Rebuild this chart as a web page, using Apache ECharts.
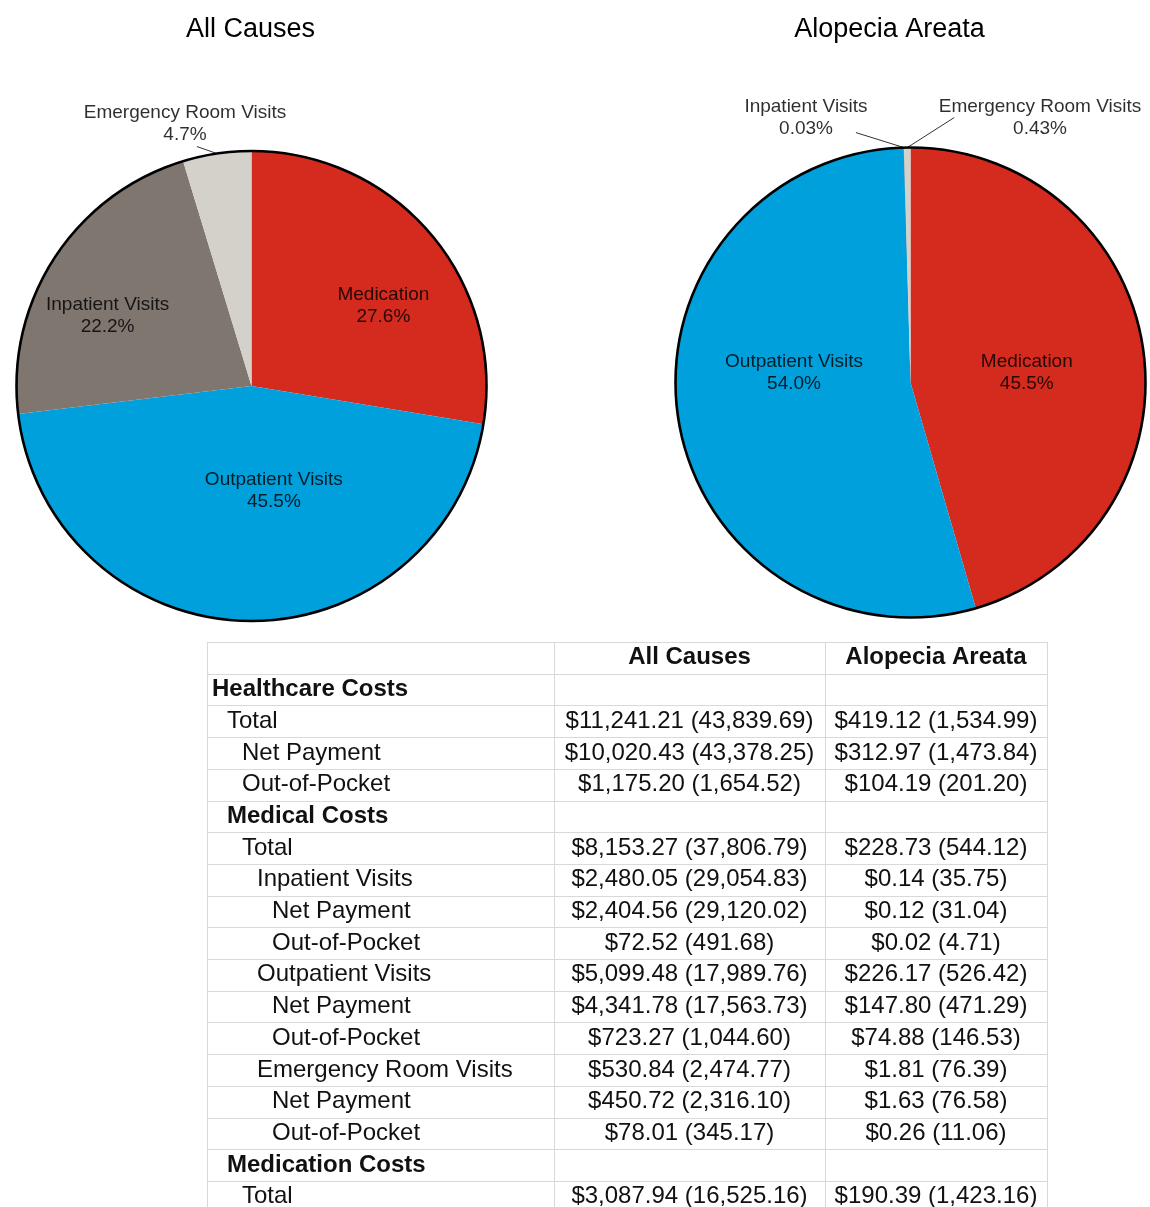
<!DOCTYPE html>
<html><head><meta charset="utf-8">
<script src="https://cdn.jsdelivr.net/npm/echarts@6/dist/echarts.min.js"></script>
<style>html,body{margin:0;padding:0;background:#fff}#c{width:1150px;height:1207px}</style>
</head><body><div id="c"></div>
<script>
// ---------- data ----------
const pieTitles = ['All Causes', 'Alopecia Areata'];
const sliceNames = ['Medication', 'Outpatient Visits', 'Inpatient Visits', 'Emergency Room Visits'];
const allCausesShares = [27.6, 45.5, 22.2, 4.7];
const alopeciaShares = [45.5, 54.0, 0.03, 0.43];
const sliceColors = ['#D52A1E', '#00A0DD', '#7F766F', '#D4D0CA'];

const tableHeaders = ['All Causes', 'Alopecia Areata'];
const rowLabels = ['Healthcare Costs', 'Total', 'Net Payment', 'Out-of-Pocket',
  'Medical Costs', 'Total', 'Inpatient Visits', 'Net Payment', 'Out-of-Pocket',
  'Outpatient Visits', 'Net Payment', 'Out-of-Pocket', 'Emergency Room Visits',
  'Net Payment', 'Out-of-Pocket', 'Medication Costs', 'Total'];
const rowLevels = [0, 1, 2, 2, 1, 2, 3, 4, 4, 3, 4, 4, 3, 4, 4, 1, 2];
const rowIsSection = [true, false, false, false, true, false, false, false, false,
  false, false, false, false, false, false, true, false];
const allCausesCosts = ['', '$11,241.21 (43,839.69)', '$10,020.43 (43,378.25)', '$1,175.20 (1,654.52)',
  '', '$8,153.27 (37,806.79)', '$2,480.05 (29,054.83)', '$2,404.56 (29,120.02)', '$72.52 (491.68)',
  '$5,099.48 (17,989.76)', '$4,341.78 (17,563.73)', '$723.27 (1,044.60)', '$530.84 (2,474.77)',
  '$450.72 (2,316.10)', '$78.01 (345.17)', '', '$3,087.94 (16,525.16)'];
const alopeciaCosts = ['', '$419.12 (1,534.99)', '$312.97 (1,473.84)', '$104.19 (201.20)',
  '', '$228.73 (544.12)', '$0.14 (35.75)', '$0.12 (31.04)', '$0.02 (4.71)',
  '$226.17 (526.42)', '$147.80 (471.29)', '$74.88 (146.53)', '$1.81 (76.39)',
  '$1.63 (76.58)', '$0.26 (11.06)', '', '$190.39 (1,423.16)'];

// ---------- layout ----------
const FONT = "'Liberation Sans', Arial, Helvetica, sans-serif";
const pieLayouts = [
  { center: [251.5, 386], radius: 235,
    inside: { 0: [40, -2.5], 1: [25, -15.5], 2: [-43, -4.3] },
    outside: { 3: { text: [185, 124], line: [-20, -7] } } },
  { center: [910.5, 382.5], radius: 235,
    inside: { 0: [-3, 7], 1: [2.6, -28.7] },
    outside: { 2: { text: [806, 118], line: [-48, -15] }, 3: { text: [1040, 118], line: [47, -30] } } }
];

function fmtPct(v) { return (v >= 1 ? v.toFixed(1) : v.toFixed(2)) + '%'; }

function buildPie(shares, idx) {
  const L = pieLayouts[idx];
  const data = shares.map((v, i) => {
    const isOut = L.outside[i] != null;
    return {
      value: v, name: sliceNames[i],
      itemStyle: { color: sliceColors[i] },
      label: { position: isOut ? 'outside' : 'inside' },
      labelLine: { show: isOut }
    };
  });
  return {
    type: 'pie', center: L.center, radius: L.radius,
    startAngle: 90, clockwise: true, avoidLabelOverlap: false,
    animation: false, silent: true, emphasis: { disabled: true },
    itemStyle: { borderWidth: 0 },
    label: {
      show: true, fontFamily: FONT, fontSize: 19, lineHeight: 22,
      color: 'rgba(0,0,0,0.82)', align: 'center',
      formatter: p => p.name + '\n' + fmtPct(p.value)
    },
    labelLine: { length: 12, length2: 8, lineStyle: { color: '#333', width: 1 } },
    labelLayout: function (params) {
      const i = params.dataIndex;
      if (L.inside[i]) return { dx: L.inside[i][0], dy: L.inside[i][1] };
      const o = L.outside[i];
      if (o) {
        const res = { x: o.text[0], y: o.text[1], align: 'center', verticalAlign: 'middle' };
        if (params.labelLinePoints && params.labelLinePoints[0]) {
          const p0 = params.labelLinePoints[0];
          const p1 = [p0[0] + o.line[0], p0[1] + o.line[1]];
          res.labelLinePoints = [p0, p1, p1];
        }
        return res;
      }
      return {};
    },
    data: data
  };
}

function buildRing(idx) {
  const L = pieLayouts[idx];
  return {
    type: 'pie', center: L.center, radius: L.radius, silent: true, animation: false,
    emphasis: { disabled: true }, z: 5,
    label: { show: false }, labelLine: { show: false },
    itemStyle: { color: 'rgba(0,0,0,0)', borderColor: '#000', borderWidth: 2.6 },
    data: [{ value: 1, name: '' }]
  };
}

// table geometry
const tableTop = 642, rowH = 31.7;
const colX = [207, 554, 825, 1047];
const indentStep = 15;
const tableElems = [];
const nRows = rowLabels.length + 1;
for (let k = 0; k <= nRows; k++) {
  const y = Math.round(tableTop + rowH * k) + 0.5;
  tableElems.push({ type: 'line', silent: true, shape: { x1: colX[0], y1: y, x2: colX[3], y2: y },
    style: { stroke: '#d9d9d9', lineWidth: 1 } });
}
colX.forEach(x => {
  tableElems.push({ type: 'line', silent: true, shape: { x1: x + 0.5, y1: tableTop, x2: x + 0.5, y2: tableTop + rowH * nRows },
    style: { stroke: '#d9d9d9', lineWidth: 1 } });
});
const colCenters = [(colX[1] + colX[2]) / 2, (colX[2] + colX[3]) / 2];
tableHeaders.forEach((h, j) => {
  tableElems.push({ type: 'text', silent: true, x: colCenters[j], y: tableTop + rowH * 0.5,
    style: { text: h, font: 'bold 24px ' + FONT, fill: '#111', align: 'center', verticalAlign: 'middle' } });
});
rowLabels.forEach((lab, i) => {
  const yc = tableTop + rowH * (i + 1.5);
  tableElems.push({ type: 'text', silent: true, x: colX[0] + 5 + rowLevels[i] * indentStep, y: yc,
    style: { text: lab, font: (rowIsSection[i] ? 'bold ' : '') + '24px ' + FONT, fill: '#111', align: 'left', verticalAlign: 'middle' } });
  [allCausesCosts[i], alopeciaCosts[i]].forEach((v, j) => {
    if (!v) return;
    tableElems.push({ type: 'text', silent: true, x: colCenters[j], y: yc,
      style: { text: v, font: '24px ' + FONT, fill: '#111', align: 'center', verticalAlign: 'middle' } });
  });
});

const chart = echarts.init(document.getElementById('c'), null, { renderer: 'canvas' });
chart.setOption({
  backgroundColor: '#fff',
  animation: false,
  title: pieTitles.map((t, i) => ({
    text: t, left: pieLayouts[i].center[0] - (i === 1 ? 21 : 1), top: 16, textAlign: 'center', padding: 0,
    textStyle: { fontFamily: FONT, fontSize: 27, fontWeight: 'normal', color: '#000' }
  })),
  series: [buildPie(allCausesShares, 0), buildRing(0), buildPie(alopeciaShares, 1), buildRing(1)],
  graphic: tableElems
});
</script>
</body></html>
